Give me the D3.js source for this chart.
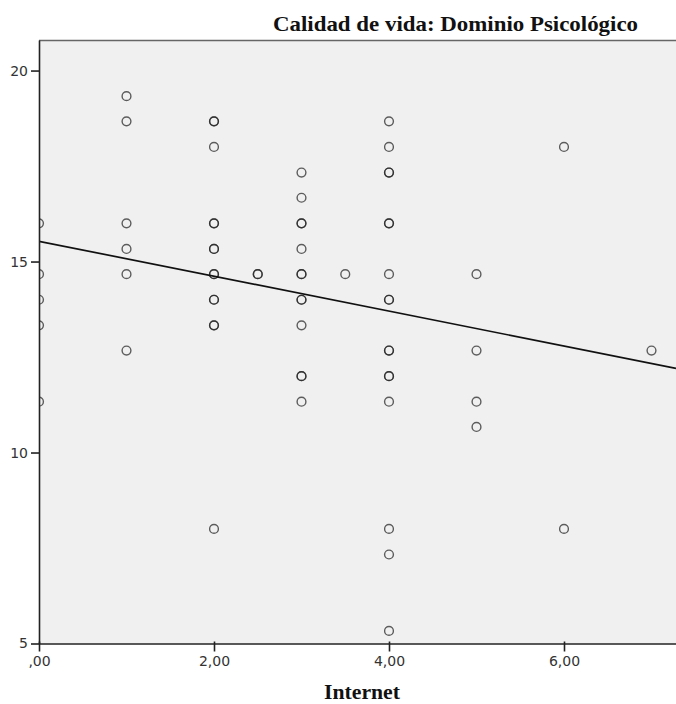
<!DOCTYPE html>
<html>
<head>
<meta charset="utf-8">
<script src="https://cdn.jsdelivr.net/npm/d3@7"></script>
<style>
  html, body { margin: 0; padding: 0; background: #fff; }
  svg { display: block; }
</style>
</head>
<body>
<svg id="chart" width="676" height="704"></svg>
<script>
// Scatter of psychological-domain quality-of-life score against Internet use
const internet = [
  0, 0, 0, 0, 0,
  1, 1, 1, 1, 1, 1,
  2, 2, 2, 2, 2, 2, 2, 2, 2, 2, 2, 2, 2, 2,
  2.5, 2.5,
  3, 3, 3, 3, 3, 3, 3, 3, 3, 3, 3, 3, 3,
  3.5,
  4, 4, 4, 4, 4, 4, 4, 4, 4, 4, 4, 4, 4, 4, 4, 4, 4,
  5, 5, 5, 5,
  6, 6,
  7
];
const psicologico = [
  16, 14.67, 14, 13.33, 11.33,
  19.33, 18.67, 16, 15.33, 14.67, 12.67,
  18.67, 18.67, 18, 16, 16, 15.33, 15.33, 14.67, 14.67, 14, 14, 13.33, 13.33, 8,
  14.67, 14.67,
  17.33, 16.67, 16, 16, 15.33, 14.67, 14.67, 14, 14, 13.33, 12, 12, 11.33,
  14.67,
  18.67, 18, 17.33, 17.33, 16, 16, 14.67, 14, 14, 12.67, 12.67, 12, 12, 11.33, 8, 7.33, 5.33,
  14.67, 12.67, 11.33, 10.67,
  18, 8,
  12.67
];
// Linear fit line: intercept and slope
const fitIntercept = 15.53;
const fitSlope = -0.457;

const xTicks = [0, 2, 4, 6];
const xTickLabels = [",00", "2,00", "4,00", "6,00"];
const yTicks = [5, 10, 15, 20];

const titleText = "Calidad de vida: Dominio Psicológico";
const xTitle = "Internet";

const svg = d3.select("#chart");
const plot = { left: 39, top: 40, right: 676, bottom: 643.5 };

const x = d3.scaleLinear().domain([0, 7.28]).range([plot.left, plot.right]);
const y = d3.scaleLinear().domain([5, 20.8]).range([plot.bottom, plot.top]);

// plot background
svg.append("rect")
  .attr("x", plot.left).attr("y", plot.top)
  .attr("width", plot.right - plot.left).attr("height", plot.bottom - plot.top)
  .attr("fill", "#f0f0f0");

svg.append("defs").append("clipPath").attr("id", "clip")
  .append("rect")
  .attr("x", plot.left).attr("y", plot.top)
  .attr("width", plot.right - plot.left).attr("height", plot.bottom - plot.top);

const g = svg.append("g").attr("clip-path", "url(#clip)");

// points
g.selectAll("circle.pt")
  .data(internet.map((v, i) => [v, psicologico[i]]))
  .join("circle")
  .attr("class", "pt")
  .attr("cx", d => x(d[0]))
  .attr("cy", d => y(d[1]))
  .attr("r", 4.4)
  .attr("fill", "none")
  .attr("stroke", "#222")
  .attr("stroke-opacity", 0.72)
  .attr("stroke-width", 1.4);

// fit line
const xd = x.domain();
g.append("line")
  .attr("x1", x(xd[0])).attr("y1", y(fitIntercept + fitSlope * xd[0]))
  .attr("x2", x(xd[1])).attr("y2", y(fitIntercept + fitSlope * xd[1]))
  .attr("stroke", "#111")
  .attr("stroke-width", 1.7);

// top frame
svg.append("line")
  .attr("x1", plot.left).attr("x2", plot.right)
  .attr("y1", plot.top + 0.5).attr("y2", plot.top + 0.5)
  .attr("stroke", "#666").attr("stroke-width", 1.5);

// axes
const xAxis = d3.axisBottom(x)
  .tickValues(xTicks)
  .tickFormat((d, i) => xTickLabels[i])
  .tickSize(8).tickSizeOuter(0).tickPadding(5);
const gx = svg.append("g").attr("transform", `translate(0,${plot.bottom})`).call(xAxis);
gx.select(".domain").attr("stroke", "#222").attr("stroke-width", 1.6);
gx.selectAll(".tick line").attr("stroke", "#222").attr("stroke-width", 1.6).attr("y1", -2);
gx.selectAll(".tick text")
  .attr("font-family", "DejaVu Sans, sans-serif").attr("font-size", 14).attr("fill", "#333");

const yAxis = d3.axisLeft(y)
  .tickValues(yTicks)
  .tickSize(8).tickSizeOuter(0).tickPadding(3);
const gy = svg.append("g").attr("transform", `translate(${plot.left},0)`).call(yAxis);
gy.select(".domain").attr("stroke", "#222").attr("stroke-width", 1.6);
gy.selectAll(".tick line").attr("stroke", "#222").attr("stroke-width", 1.6);
gy.selectAll(".tick text")
  .attr("font-family", "DejaVu Sans, sans-serif").attr("font-size", 14).attr("fill", "#333");

// titles
svg.append("text")
  .attr("x", 638).attr("y", 31)
  .attr("text-anchor", "end")
  .attr("font-family", "Liberation Serif, Times New Roman, serif")
  .attr("font-weight", "bold")
  .attr("font-size", 21)
  .attr("textLength", 365)
  .attr("lengthAdjust", "spacingAndGlyphs")
  .attr("fill", "#111")
  .text(titleText);

svg.append("text")
  .attr("x", 362).attr("y", 699)
  .attr("text-anchor", "middle")
  .attr("font-family", "Liberation Serif, Times New Roman, serif")
  .attr("font-weight", "bold")
  .attr("font-size", 21)
  .attr("textLength", 76)
  .attr("lengthAdjust", "spacingAndGlyphs")
  .attr("fill", "#111")
  .text(xTitle);
</script>
</body>
</html>
